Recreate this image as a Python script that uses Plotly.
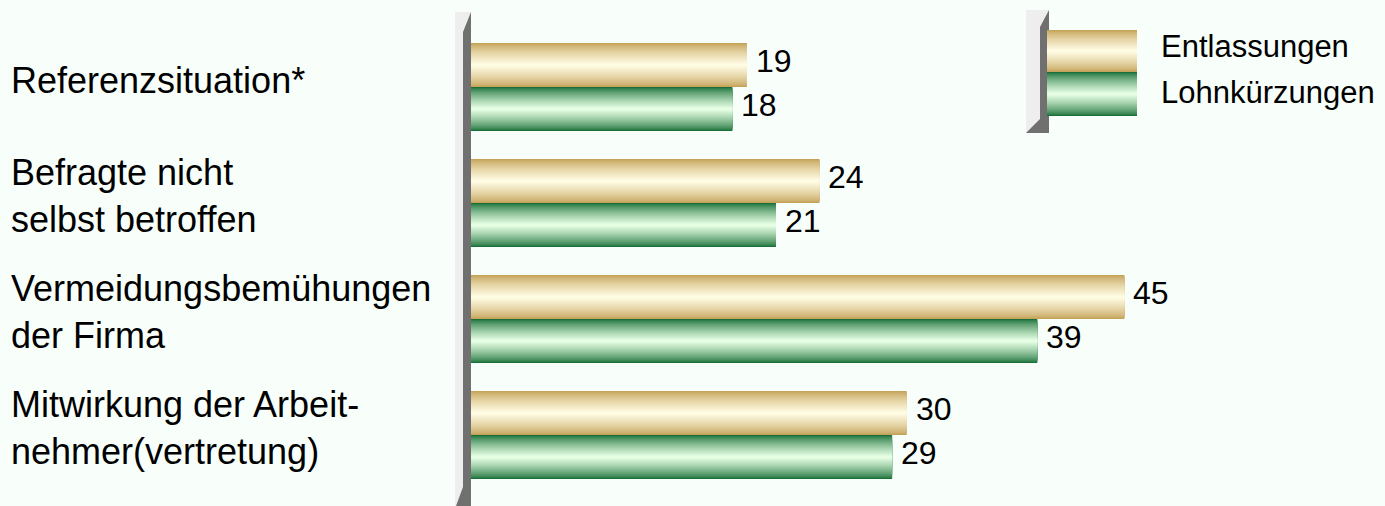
import plotly.graph_objects as go

# ---- data ----
categories = [
    "Referenzsituation*",
    "Befragte nicht<br>selbst betroffen",
    "Vermeidungsbemühungen<br>der Firma",
    "Mitwirkung der Arbeit-<br>nehmer(vertretung)",
]
series_names = ["Entlassungen", "Lohnkürzungen"]
entlassungen = [19, 24, 45, 30]
lohnkuerzungen = [18, 21, 39, 29]

# ---- style ----
FONT = "Liberation Sans, Arial, sans-serif"
BG = "rgb(248,255,251)"
TAN_EDGE = (196, 162, 88)
TAN_MID = (255, 252, 228)
GRN_EDGE = (26, 112, 56)
GRN_MID = (230, 255, 228)

W, H = 1385, 506
ML, MR, MT, MB = 471, 0, 29, 13
PW = W - ML - MR
PH = H - MT - MB

BW = 0.379          # bar thickness (category units)
N_LAYERS = 22


def mix(a, b, t):
    return "rgb(%d,%d,%d)" % tuple(round(a[i] + (b[i] - a[i]) * t) for i in range(3))


def layer_color(edge, mid, k):
    t = k / (N_LAYERS - 1)
    t = t ** 0.75
    return mix(edge, mid, t)


fig = go.Figure()
ypos = list(range(len(categories)))

series = [
    (entlassungen, TAN_EDGE, TAN_MID, -BW / 2),
    (lohnkuerzungen, GRN_EDGE, GRN_MID, BW / 2),
]
for (vals, edge, mid, center), name in zip(series, series_names):
    for k in range(N_LAYERS):
        w = BW * (1 - k / N_LAYERS)
        fig.add_trace(go.Bar(
            x=vals, y=ypos, orientation="h", name=name,
            width=w, offset=center - w / 2,
            marker=dict(color=layer_color(edge, mid, k), line=dict(width=0)),
            showlegend=False, hoverinfo="skip" if k else "x+name",
        ))
    for v, yp in zip(vals, ypos):
        fig.add_annotation(
            x=v, y=yp + center, xref="x", yref="y", text=str(v),
            showarrow=False, xanchor="left", yanchor="middle",
            xshift=7, yshift=4, font=dict(family=FONT, size=32, color="black"),
        )

# category labels (left-aligned)
for lab, yp in zip(categories, ypos):
    fig.add_annotation(
        x=(9 - ML) / PW, y=yp, xref="paper", yref="y", text=lab,
        showarrow=False, xanchor="left", yanchor="middle", align="left",
        yshift=7, font=dict(family=FONT, size=36, color="black"),
    )


def X(px):
    return (px - ML) / PW


def Y(py):
    return (H - MB - py) / PH


def path(points):
    return "M " + " L ".join("%.5f,%.5f" % (X(a), Y(b)) for a, b in points) + " Z"


shapes = []
LIGHT = "rgb(238,238,238)"
DARK = "rgb(112,112,112)"
# main wall
shapes.append(dict(type="path", xref="paper", yref="paper",
                   path=path([(455, 12), (471, 12), (471, 506), (455, 506)]),
                   fillcolor=LIGHT, line=dict(width=0), layer="below"))
shapes.append(dict(type="path", xref="paper", yref="paper",
                   path=path([(471, 12), (463, 32), (463, 487), (456, 506), (471, 506)]),
                   fillcolor=DARK, line=dict(width=0), layer="below"))
# legend wall
shapes.append(dict(type="path", xref="paper", yref="paper",
                   path=path([(1026, 10), (1049, 10), (1049, 133), (1026, 133)]),
                   fillcolor=LIGHT, line=dict(width=0)))
shapes.append(dict(type="path", xref="paper", yref="paper",
                   path=path([(1049, 10), (1040, 27), (1040, 119), (1026, 133), (1049, 133)]),
                   fillcolor=DARK, line=dict(width=0)))

# legend patches with gradient
patches = [(30, 72, TAN_EDGE, TAN_MID), (72, 116, GRN_EDGE, GRN_MID)]
for top, bot, edge, mid in patches:
    c = (top + bot) / 2
    h = bot - top
    for k in range(N_LAYERS):
        hh = h * (1 - k / N_LAYERS)
        shapes.append(dict(type="rect", xref="paper", yref="paper",
                           x0=X(1047), x1=X(1137), y0=Y(c - hh / 2), y1=Y(c + hh / 2),
                           fillcolor=layer_color(edge, mid, k), line=dict(width=0)))

legend_y = [46, 92]
for name, ly in zip(series_names, legend_y):
    fig.add_annotation(
        x=X(1159), y=Y(ly), xref="paper", yref="paper", text=name,
        showarrow=False, xanchor="left", yanchor="middle",
        font=dict(family=FONT, size=31, color="black"),
    )

fig.update_layout(
    width=W, height=H,
    margin=dict(l=ML, r=MR, t=MT, b=MB),
    paper_bgcolor=BG, plot_bgcolor=BG,
    barmode="overlay",
    shapes=shapes,
    showlegend=False,
    xaxis=dict(range=[0, PW / 14.52], visible=False, fixedrange=True),
    yaxis=dict(range=[3.5, -0.5], visible=False, fixedrange=True),
    font=dict(family=FONT),
)

fig.write_html(
    "out.html",
    config={"displayModeBar": False},
    post_script="document.body.style.margin='0';document.body.style.overflow='hidden';",
)
